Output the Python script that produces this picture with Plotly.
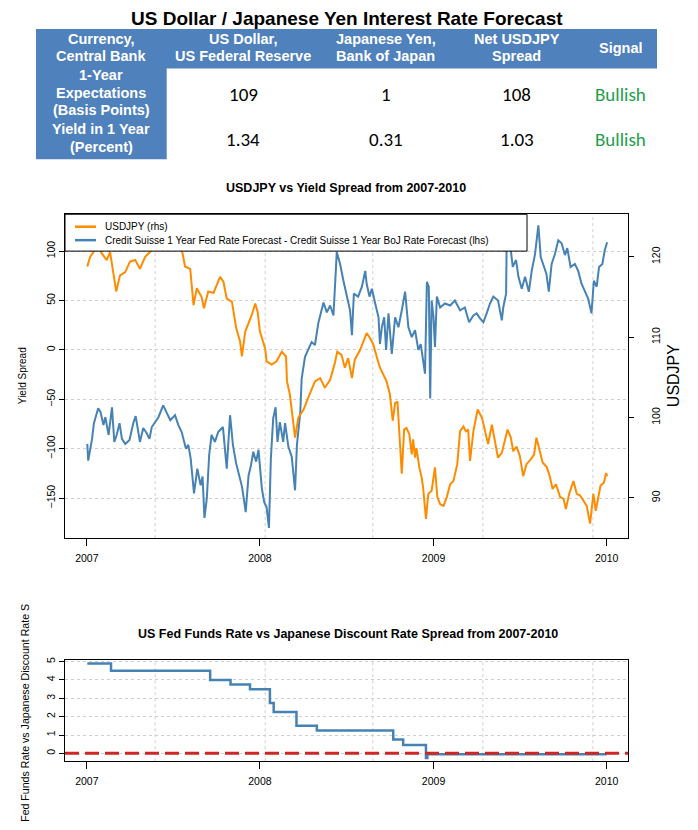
import pandas as pd
import plotly.graph_objects as go

# ---------------- data ----------------
BASE_DATE = pd.Timestamp("2007-01-01")

# Yield spread in basis points (lhs), days after BASE_DATE
spread_day = [1, 3, 11, 15, 24, 29, 35, 39, 46, 53,
              58, 63, 69, 74, 81, 90, 98, 103, 112, 119,
              126, 132, 137, 151, 161, 170, 176, 186, 193, 200,
              209, 214, 219, 226, 233, 240, 244, 248, 253, 258,
              263, 270, 277, 287, 295, 302, 308, 315, 322, 327,
              332, 335, 341, 346, 351, 357, 362, 369, 374, 379,
              384, 388, 393, 398, 402, 407, 414, 418, 425, 432,
              439, 443, 450, 453, 460, 474, 481, 488, 499, 506,
              513, 520, 527, 534, 541, 548, 555, 559, 563, 572,
              580, 587, 590, 596, 601, 608, 615, 618, 622, 627,
              631, 636, 639, 643, 650, 657, 664, 671, 678, 685,
              692, 699, 704, 709, 713, 717, 721, 724, 727, 731,
              734, 738, 745, 755, 766, 776, 787, 797, 806, 815,
              822, 829, 836, 843, 850, 857, 867, 875, 878, 884,
              885, 892, 898, 905, 910, 917, 924, 932, 938, 945,
              952, 957, 962, 969, 974, 980, 987, 994, 1001, 1008,
              1013, 1020, 1029, 1036, 1043, 1050, 1057, 1064, 1069, 1075,
              1080, 1087, 1092, 1097]
spread_val = [-95, -112, -90, -74, -59, -63, -76, -68, -86, -58,
              -93, -86, -74, -90, -95, -91, -74, -67, -93, -79,
              -84, -90, -78, -68, -56, -66, -71, -66, -76, -83,
              -100, -96, -110, -145, -120, -137, -128, -170, -150, -106,
              -86, -93, -83, -78, -120, -66, -96, -115, -130, -138,
              -154, -164, -127, -117, -103, -113, -101, -140, -154, -159,
              -180, -110, -69, -58, -93, -73, -93, -74, -98, -108,
              -142, -96, -63, -29, -7, 8, 5, 27, 48, 38,
              45, 35, 99, 87, 70, 54, 40, 15, 57, 54,
              64, 80, 67, 54, 62, 47, 33, 6, 23, 33,
              0, 37, 16, -4, 33, 23, 40, 59, 23, 13,
              20, 0, 6, -10, -24, 69, 64, -49, 50, 33,
              3, 54, 43, 47, 45, 50, 40, 43, 28, 35,
              37, 32, 28, 37, 47, 54, 50, 30, 43, 57,
              101, 109, 84, 91, 74, 62, 74, 59, 80, 97,
              126, 94, 87, 77, 59, 87, 97, 111, 108, 96,
              103, 84, 87, 80, 67, 60, 52, 37, 70, 64,
              84, 87, 101, 109]

# USDJPY (rhs), days after BASE_DATE
usdjpy_day = [1, 7, 14, 22, 32, 42, 49, 56, 62, 70,
              81, 91, 102, 112, 123, 133, 144, 154, 165, 176,
              186, 197, 202, 207, 218, 225, 232, 242, 247, 256,
              267, 281, 288, 295, 306, 315, 323, 327, 334, 341,
              348, 355, 360, 365, 376, 379, 390, 400, 411, 420,
              422, 428, 435, 439, 446, 457, 467, 481, 492, 502,
              513, 523, 528, 537, 544, 551, 559, 565, 576, 583,
              590, 597, 604, 611, 618, 632, 639, 645, 650, 655,
              659, 664, 669, 674, 680, 685, 688, 692, 695, 701,
              706, 709, 715, 720, 727, 734, 739, 745, 752, 759,
              766, 773, 781, 787, 794, 799, 804, 808, 815, 824,
              833, 840, 846, 854, 861, 867, 875, 882, 887, 894,
              899, 906, 913, 920, 927, 936, 943, 948, 954, 961,
              970, 976, 982, 989, 998, 1005, 1010, 1017, 1026, 1033,
              1040, 1047, 1054, 1061, 1068, 1073, 1078, 1083, 1090, 1095,
              1097]
usdjpy_val = [118.8, 120, 120.6, 121.5, 120.4, 119.6, 120.6, 118.1, 115.7, 117.7,
              118.1, 119.4, 119.6, 118.5, 120, 120.6, 121.2, 121.8, 122.5, 123.5,
              122.8, 121.5, 120.4, 118.8, 118.5, 114, 116.1, 115, 113.6, 115.7,
              115.5, 117.5, 116.9, 114.8, 114.4, 111.1, 109.5, 107.6, 110.7, 111.7,
              112.8, 114.2, 113.2, 110.7, 108.6, 107, 106.6, 107, 108.2, 107.6,
              104.5, 102.9, 99.6, 97.5, 100, 101, 102.5, 104.5, 104.9, 103.7,
              104.7, 106.8, 108.2, 107.8, 106.2, 107.4, 104.9, 107.2, 108.4, 109.5,
              110.5, 109.9, 109.1, 107.6, 106.2, 104.5, 102.9, 99.6, 101.8, 102,
              97.5, 93, 98.5, 98.7, 97.9, 95.4, 97.3, 95, 96.2, 93.8,
              92.5, 91.3, 87.4, 90.5, 90.9, 93.8, 90.1, 89.2, 89, 90.1,
              91.7, 92.1, 94.2, 98.3, 98.9, 98.3, 98.5, 94.6, 98.3, 101,
              100, 98.3, 96.7, 99.1, 96.9, 95, 95.6, 97.3, 98.5, 97.5,
              95.8, 96.4, 95.2, 92.7, 94.2, 94.8, 95.4, 97.5, 96.2, 94.4,
              93.8, 92.7, 91.1, 91.7, 90.1, 89.9, 88.6, 90.5, 92.1, 90.5,
              90.3, 89.6, 89, 86.8, 90.5, 88.4, 90.1, 91.5, 91.9, 93.1,
              92.7]

# Fed funds minus Japanese discount rate (step series, percent)
policy_dates = ["2007-01-02", "2007-02-21", "2007-09-18", "2007-10-31", "2007-12-11",
                "2008-01-22", "2008-01-30", "2008-03-18", "2008-04-30", "2008-10-08",
                "2008-10-29", "2008-12-16", "2008-12-19", "2010-01-01"]
policy_spread = [4.9, 4.5, 4.0, 3.75, 3.5, 2.75, 2.25, 1.5, 1.25, 0.75,
                 0.45, -0.25, -0.05, -0.05]

year_ticks = ["2007-01-01", "2008-01-01", "2009-01-01", "2010-01-01"]
year_labels = ["2007", "2008", "2009", "2010"]
grid_dates = ["2007-05-25", "2008-01-12", "2008-08-26", "2009-04-15", "2009-12-03"]
x_range = ["2006-11-16", "2010-02-15"]
spread_ticks = [-150, -100, -50, 0, 50, 100]
usdjpy_ticks = [90, 100, 110, 120]
rate_ticks = [0, 1, 2, 3, 4, 5]

legend_names = ["USDJPY (rhs)",
                "Credit Suisse 1 Year Fed Rate Forecast - Credit Suisse 1 Year BoJ Rate Forecast (lhs)"]

table_headers = [["Currency,", "Central Bank"], ["US Dollar,", "US Federal Reserve"],
                 ["Japanese Yen,", "Bank of Japan"], ["Net USDJPY", "Spread"], ["Signal"]]
row_labels = [["1-Year", "Expectations", "(Basis Points)"], ["Yield in 1 Year", "(Percent)"]]
row_values = [["109", "1", "108"], ["1.34", "0.31", "1.03"]]
row_signals = ["Bullish", "Bullish"]

# ---------------- layout helpers ----------------
# the page body has an 8px margin, so the figure starts at page pixel (8, 8)
OFF = 8
W, H = 698 - OFF, 830 - OFF
def fx(x):
    return (x - OFF) / W
def fy(y):
    return 1 - (y - OFF) / H

SANS = "Liberation Sans, Arial, sans-serif"
NARROW = "Liberation Sans Narrow, Arial Narrow, Liberation Sans, Arial, sans-serif"
DATA_FONT = "Carlito, Calibri, Lato, sans-serif"
BLUE = "#4682B4"
ORANGE = "#FF8C00"
HEADER_BLUE = "#4F81BD"
GRID = "#cfcfcf"

spread_dates = [BASE_DATE + pd.Timedelta(days=d) for d in spread_day]
usdjpy_dates = [BASE_DATE + pd.Timedelta(days=d) for d in usdjpy_day]

fig = go.Figure()
fig.add_trace(go.Scatter(
    x=spread_dates, y=spread_val, mode="lines", xaxis="x", yaxis="y",
    line=dict(color=BLUE, width=2), name=legend_names[1], showlegend=False))
fig.add_trace(go.Scatter(
    x=usdjpy_dates, y=usdjpy_val, mode="lines", xaxis="x", yaxis="y2",
    line=dict(color=ORANGE, width=2), name=legend_names[0], showlegend=False))
fig.add_trace(go.Scatter(
    x=policy_dates, y=policy_spread, mode="lines", xaxis="x2", yaxis="y3",
    line=dict(color=BLUE, width=2.5, shape="hv"), showlegend=False))

x_dom = [fx(65), fx(628)]
axis_common = dict(showline=True, linecolor="black", linewidth=1, mirror=True,
                   zeroline=False, ticks="outside", tickcolor="black",
                   tickfont=dict(family=SANS, size=10.5, color="black"))

fig.update_layout(
    width=W, height=H, margin=dict(l=0, r=0, t=0, b=0),
    paper_bgcolor="white", plot_bgcolor="white", showlegend=False,
    xaxis=dict(domain=x_dom, anchor="y", type="date", range=x_range,
               tickmode="array", tickvals=year_ticks, ticktext=year_labels,
               ticklen=7, showgrid=False, ticklabelstandoff=3, **axis_common),
    yaxis=dict(domain=[fy(537), fy(212)], anchor="x", range=[-190.3, 137.3],
               tickmode="array", tickvals=spread_ticks, tickangle=-90, ticklen=5,
               showgrid=True, gridcolor=GRID, griddash="dot", gridwidth=1,
               **axis_common),
    yaxis2=dict(overlaying="y", side="right", anchor="x", range=[85.0, 125.3],
                tickmode="array", tickvals=usdjpy_ticks, tickangle=-90, ticklen=5,
                showgrid=False, zeroline=False, showline=False, ticks="outside",
                tickcolor="black", ticklabelstandoff=13,
                tickfont=dict(family=SANS, size=10.5, color="black")),
    xaxis2=dict(domain=x_dom, anchor="y3", type="date", range=x_range,
                tickmode="array", tickvals=year_ticks, ticktext=year_labels,
                ticklen=7, showgrid=False, ticklabelstandoff=3, **axis_common),
    yaxis3=dict(domain=[fy(761), fy(659)], anchor="x2", range=[-0.43, 5.11],
                tickmode="array", tickvals=rate_ticks, tickangle=-90, ticklen=5,
                showgrid=True, gridcolor=GRID, griddash="dot", gridwidth=1,
                **axis_common),
)

shapes = []
for d in grid_dates:
    for xr, yr in (("x", "y domain"), ("x2", "y3 domain")):
        shapes.append(dict(type="line", xref=xr, yref=yr, x0=d, x1=d, y0=0, y1=1,
                           line=dict(color=GRID, width=1, dash="dot"), layer="below"))
shapes.append(dict(type="line", xref="x2 domain", yref="y3", x0=0, x1=1, y0=0, y1=0,
                   line=dict(color="#CD2626", width=3, dash="14px,6px"), layer="above"))
# table backgrounds
shapes.append(dict(type="rect", xref="paper", yref="paper", x0=fx(36), x1=fx(657),
                   y0=fy(65.7), y1=fy(26), fillcolor=HEADER_BLUE, line=dict(width=0),
                   layer="below"))
shapes.append(dict(type="rect", xref="paper", yref="paper", x0=fx(36), x1=fx(166.7),
                   y0=fy(156.7), y1=fy(26), fillcolor=HEADER_BLUE, line=dict(width=0),
                   layer="below"))
# legend box (drawn over the lines) and its line samples
shapes.append(dict(type="rect", xref="paper", yref="paper", x0=fx(65), x1=fx(527),
                   y0=fy(249), y1=fy(212), fillcolor="white",
                   line=dict(color="black", width=1), layer="above"))
for color, yy in ((ORANGE, 224.5), (BLUE, 238)):
    shapes.append(dict(type="line", xref="paper", yref="paper", x0=fx(75), x1=fx(96),
                       y0=fy(yy), y1=fy(yy), line=dict(color=color, width=2.5),
                       layer="above"))
fig.update_layout(shapes=shapes)

ann = []
def text(t, x, y, size, family=SANS, color="black", bold=False, angle=0,
         xanchor="center", yanchor="middle"):
    ann.append(dict(text=("<b>%s</b>" % t) if bold else t, x=fx(x), y=fy(y),
                    xref="paper", yref="paper", showarrow=False, textangle=angle,
                    xanchor=xanchor, yanchor=yanchor,
                    font=dict(family=family, size=size, color=color)))

text("US Dollar / Japanese Yen Interest Rate Forecast", 347, 15.5, 19, NARROW, bold=True)
text("USDJPY vs Yield Spread from 2007-2010", 346, 185.5, 12.5, SANS, bold=True)
text("US Fed Funds Rate vs Japanese Discount Rate Spread from 2007-2010", 347.5, 633,
     12.5, SANS, bold=True)
text("Yield Spread", 22, 374.5, 10, SANS, angle=-90)
text("USDJPY", 673, 374.5, 16, SANS, angle=-90)
text("Fed Funds Rate vs Japanese Discount Rate S", 25, 601, 10.6, SANS, angle=-90,
     yanchor="top")
text(legend_names[0], 103, 224.5, 10, SANS, xanchor="left")
text(legend_names[1], 103, 238, 10, SANS, xanchor="left")

col_centers = [101, 243.5, 385.5, 516.7, 620.5]
for c, lines in zip(col_centers, table_headers):
    ys = [36, 53] if len(lines) == 2 else [45]
    for ln, yy in zip(lines, ys):
        text(ln, c, yy, 14.5, SANS, color="white", bold=True)

label_ys = [[72.7, 90, 107.3], [126.7, 144]]
value_ys = [91.7, 137.3]
for lines, ys in zip(row_labels, label_ys):
    for ln, yy in zip(lines, ys):
        text(ln, col_centers[0], yy, 14.5, SANS, color="white", bold=True)
for vals, sig, yy in zip(row_values, row_signals, value_ys):
    for v, c in zip(vals, col_centers[1:4]):
        text(v, c, yy, 19, DATA_FONT, color="black")
    text(sig, col_centers[4], yy, 19, DATA_FONT, color="#1E9E4A")

fig.update_layout(annotations=ann)
fig.write_html("out.html")
